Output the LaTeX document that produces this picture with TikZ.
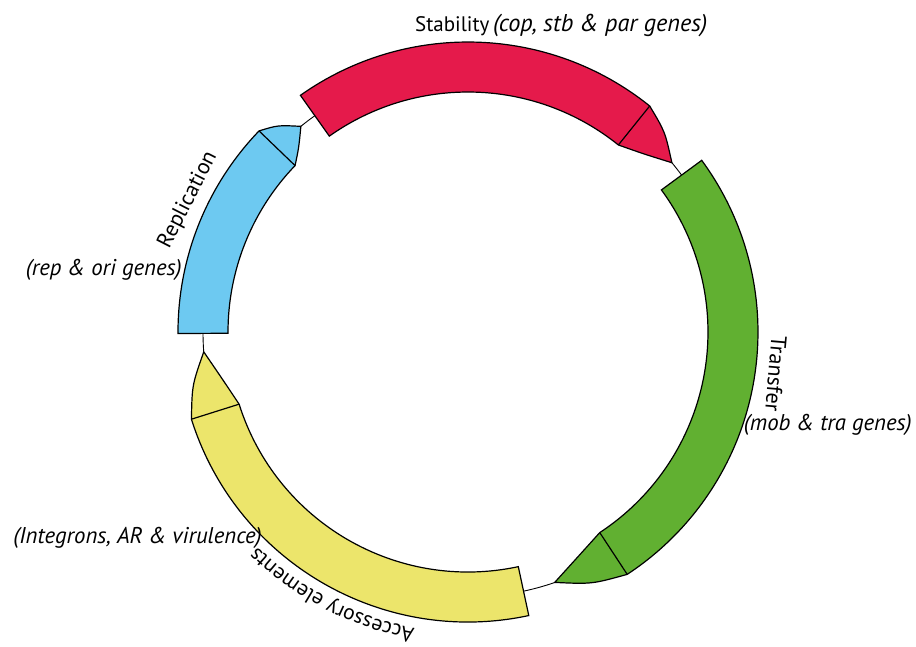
\documentclass[tikz,border=0pt]{standalone}
\usepackage{fontspec}
\setmainfont{PT Sans}
\usetikzlibrary{decorations.text}
\definecolor{segred}{HTML}{E51A4B}
\definecolor{segblue}{HTML}{6DC9F1}
\definecolor{seggreen}{HTML}{61B031}
\definecolor{segyellow}{HTML}{ECE56B}
\newcommand{\plasseg}[5]{%
  \filldraw[segline, fill=#1] (#2:290pt) arc[start angle=#2, end angle=#3, radius=290pt]
    .. controls ({(#3+#4)/2}:281pt) .. (#4:265pt)
    .. controls ({(#3+#4)/2}:250pt) .. (#3:240pt)
    arc[start angle=#3, end angle=#2, radius=240pt] -- cycle;
  \draw[segline] (#3:290pt) -- (#3:240pt);
  \coordinate (#5) at ({(#2+#3)/2}:265pt);}
\begin{document}
\begin{tikzpicture}[
  segline/.style={draw=black, line width=1.2pt, line join=miter},
  lab/.style={font=\fontsize{22}{26}\selectfont, inner sep=0pt},
  ilab/.style={font=\fontsize{22.8}{26}\selectfont\itshape, inner sep=0pt}]
\useasboundingbox (-468pt,-314pt) rectangle (448pt,332pt);
\draw[line width=0.9pt] (0,0) circle[radius=265pt];
\plasseg{segblue}{180.3}{136.1}{129.1}{rep}
\plasseg{segred}{125.3}{51.2}{39.7}{stab}
\plasseg{seggreen}{36.3}{-56.7}{-70.9}{trans}
\plasseg{segyellow}{282.1}{197.5}{184.3}{acc}
% labels
\node[lab, font=\fontsize{21}{26}\selectfont, anchor=base west] (stabl) at (-53pt,300pt) {Stability\,\textit{\fontsize{24.3}{26}\selectfont(cop, stb \& par genes)}};
\node[lab, rotate=63] (repl) at (-280pt,132pt) {Replication};
\node[ilab, anchor=base east] (repg) at (-286pt,57pt) {(rep \& ori genes)};
\node[lab, rotate=-95] (transl) at (308pt,-42pt) {Transfer};
\node[ilab, anchor=base east] (transg) at (444pt,-98pt) {(mob \& tra genes)};
\node[ilab, anchor=base east] (accg) at (-206pt,-211pt) {(Integrons, AR \& virulence)};
\path[decorate, decoration={text along path, text align=center,
  text={|\fontsize{21.5}{26}\selectfont|Accessory elements}}]
  (263:301pt) arc[start angle=263, end angle=222.4, radius=301pt];
\end{tikzpicture}
\end{document}
